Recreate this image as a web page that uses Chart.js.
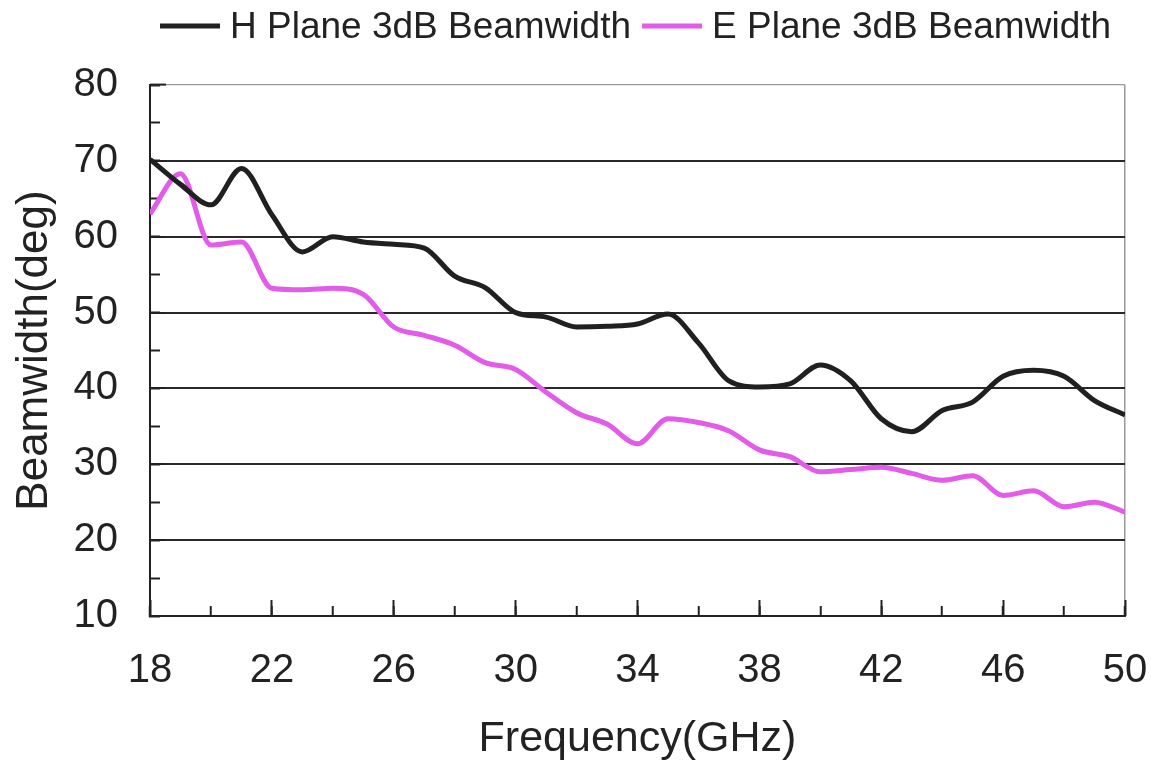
<!DOCTYPE html>
<html>
<head>
<meta charset="utf-8">
<script src="https://cdn.jsdelivr.net/npm/chart.js@4.4.0/dist/chart.umd.min.js"></script>
<style>
html,body{margin:0;padding:0;background:#ffffff;}
canvas{display:block;}
</style>
</head>
<body>
<canvas id="c" width="1153" height="769"></canvas>
<script>
// ---- data ----
const frequencies = [18,19,20,21,22,23,24,25,26,27,28,29,30,31,32,33,34,35,36,37,38,39,40,41,42,43,44,45,46,47,48,49,50];
const hPlane = [70.2,66.9,64.2,69.0,62.9,58.0,60.0,59.3,59.0,58.5,54.8,53.3,50.0,49.4,48.1,48.2,48.5,49.8,46.0,41.0,40.2,40.6,43.1,41.0,36.0,34.3,37.1,38.2,41.6,42.4,41.6,38.4,36.5];
const ePlane = [63.0,68.3,58.9,59.3,53.2,53.0,53.2,52.4,48.1,47.0,45.7,43.4,42.5,39.5,36.8,35.3,32.7,36.0,35.5,34.4,31.9,31.0,29.0,29.3,29.6,28.8,27.9,28.5,25.9,26.5,24.4,25.0,23.7];
const seriesNames = ['H Plane 3dB Beamwidth','E Plane 3dB Beamwidth'];
const xTickLabels = ['18','22','26','30','34','38','42','46','50'];
const yTickLabels = ['10','20','30','40','50','60','70','80'];

const FONT = '"Liberation Sans", Arial, Helvetica, sans-serif';
const TEXT = '#222222';

const lineLegend = {
  id: 'lineLegend',
  afterDraw(chart) {
    const ctx = chart.ctx;
    ctx.save();
    ctx.font = '37px ' + FONT;
    ctx.textBaseline = 'alphabetic';
    ctx.textAlign = 'left';
    let x = 160;
    chart.data.datasets.forEach(ds => {
      ctx.strokeStyle = ds.borderColor;
      ctx.lineWidth = 5;
      ctx.lineCap = 'butt';
      ctx.beginPath();
      ctx.moveTo(x, 26);
      ctx.lineTo(x + 60, 26);
      ctx.stroke();
      x += 70;
      ctx.fillStyle = TEXT;
      ctx.fillText(ds.label, x, 38);
      x += ctx.measureText(ds.label).width + 11;
    });
    ctx.restore();
  }
};

new Chart(document.getElementById('c'), {
  type: 'line',
  data: {
    datasets: [
      {
        label: seriesNames[0],
        data: frequencies.map((f, i) => ({x: f, y: hPlane[i]})),
        borderColor: '#202020',
        borderWidth: 5,
        pointRadius: 0,
        cubicInterpolationMode: 'monotone',
        xAxisID: 'x', yAxisID: 'y'
      },
      {
        label: seriesNames[1],
        data: frequencies.map((f, i) => ({x: f, y: ePlane[i]})),
        borderColor: '#e35be9',
        borderWidth: 5,
        pointRadius: 0,
        cubicInterpolationMode: 'monotone',
        xAxisID: 'x', yAxisID: 'y'
      }
    ]
  },
  plugins: [lineLegend],
  options: {
    responsive: false,
    animation: false,
    devicePixelRatio: 1,
    layout: { padding: { left: 0, right: 12, top: 0, bottom: 0 } },
    plugins: {
      legend: { display: false },
      tooltip: { enabled: false }
    },
    scales: {
      x: {
        type: 'linear', position: 'bottom', weight: 1, min: 18, max: 50,
        ticks: {
          stepSize: 2, autoSkip: false, maxRotation: 0, minRotation: 0, padding: 41,
          color: TEXT, font: { size: 40, family: FONT },
          callback: v => xTickLabels.includes(String(v)) ? String(v) : ''
        },
        grid: {
          color: c => (c.tick && c.tick.value === 50) ? '#9a9a9a' : 'rgba(0,0,0,0)',
          lineWidth: 1.5, drawOnChartArea: true, drawTicks: true,
          tickLength: -10, tickColor: TEXT, tickWidth: 2
        },
        border: { display: true, color: TEXT, width: 2 },
        title: { display: true, text: 'Frequency(GHz)', color: TEXT, font: { size: 43, family: FONT }, padding: { top: 0, bottom: 4 } },
        afterFit: s => { s.height = 153; s.paddingRight = 28; }
      },
      x2: {
        type: 'linear', position: 'bottom', weight: 0, min: 18, max: 50,
        ticks: { stepSize: 4, display: false },
        grid: { drawOnChartArea: false, drawTicks: true, tickLength: -16, tickColor: TEXT, tickWidth: 2 },
        border: { display: false },
        afterFit: s => { s.height = 0; }
      },
      y: {
        type: 'linear', position: 'left', weight: 1, min: 10, max: 80,
        ticks: {
          stepSize: 5, autoSkip: false, padding: 42,
          color: TEXT, font: { size: 40, family: FONT },
          callback: v => yTickLabels.includes(String(v)) ? String(v) : ''
        },
        grid: { drawOnChartArea: false, drawTicks: true, tickLength: -10, tickColor: TEXT, tickWidth: 2 },
        border: { display: true, color: TEXT, width: 2 },
        title: { display: true, text: 'Beamwidth(deg)', color: TEXT, font: { size: 44, family: FONT }, padding: { top: 8, bottom: 0 } },
        afterFit: s => { s.width = 150; s.paddingTop = 85; }
      },
      y2: {
        type: 'linear', position: 'left', weight: 0, min: 10, max: 80,
        ticks: { stepSize: 10, display: false },
        grid: {
          color: c => {
            const v = c.tick ? c.tick.value : null;
            if (v === 80) return '#9a9a9a';
            if (v === 10) return 'rgba(0,0,0,0)';
            return '#2a2a2a';
          },
          lineWidth: c => (c.tick && c.tick.value === 80) ? 1.2 : 2,
          drawOnChartArea: true, drawTicks: true, tickLength: -16, tickColor: TEXT, tickWidth: 2
        },
        border: { display: false },
        afterFit: s => { s.width = 0; }
      }
    }
  }
});
</script>
</body>
</html>
